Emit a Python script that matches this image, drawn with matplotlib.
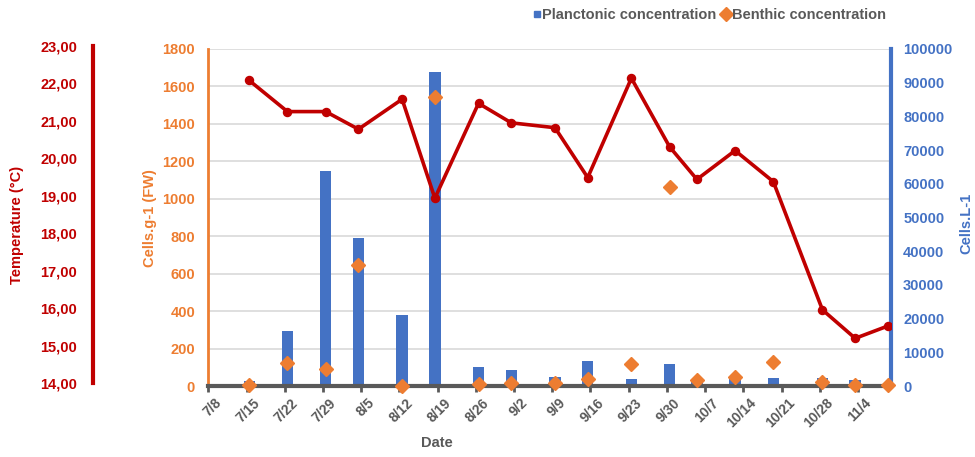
import matplotlib
matplotlib.use('Agg')
import matplotlib.pyplot as plt
import matplotlib.transforms as mtransforms
from matplotlib.lines import Line2D
from datetime import date

# ---------------- data ----------------
sample_dates = ['7/15', '7/22', '7/29', '8/4', '8/12', '8/18', '8/26', '9/1', '9/9',
                '9/15', '9/23', '9/30', '10/5', '10/12', '10/19', '10/28', '11/3', '11/9']
temperature = [22.08, 21.25, 21.25, 20.78, 21.58, 18.94, 21.47, 20.95, 20.82,
               19.49, 22.14, 20.31, 19.44, 20.21, 19.38, 15.96, 15.20, 15.53]
planctonic = [1500, 16300, 63700, 44000, 21100, 93200, 5500, 4700, 2650,
              7500, 2000, 6500, 1500, 2500, 2400, 2500, 1700, 0]
benthic = [5, 125, 91, 646, 2, 1542, 9, 14, 14,
           36, 116, 1064, 32, 50, 130, 23, 5, 5]
tick_labels = ['7/8', '7/15', '7/22', '7/29', '8/5', '8/12', '8/19', '8/26', '9/2',
               '9/9', '9/16', '9/23', '9/30', '10/7', '10/14', '10/21', '10/28', '11/4']
axis_start = '7/8'
axis_end = '11/10'


def day(s):
    m, d = map(int, s.split('/'))
    m0, d0 = map(int, axis_start.split('/'))
    return (date(2019, m, d) - date(2019, m0, d0)).days


# Excel date axis: each date occupies a one-day slot; marks sit at slot centre
xs = [day(s) + 0.5 for s in sample_dates]
tick_pos = [day(s) for s in tick_labels]
xlim = (0, day(axis_end))

RED = '#C00000'
ORANGE = '#ED7D31'
BLUE = '#4472C4'
GRAY = '#595959'
FONT = 'Liberation Sans'
plt.rcParams['font.family'] = [FONT, 'DejaVu Sans']
plt.rcParams['font.weight'] = 'bold'

W, H = 975, 457
fig = plt.figure(figsize=(W / 100, H / 100), dpi=100)

L, R, T, B = 208.3, 890.7, 49.0, 386.0
rect = [L / W, (H - B) / H, (R - L) / W, (B - T) / H]

# left axis (gridlines)
ax_l = fig.add_axes(rect)
ax_l.set_zorder(1)
ax_l.set_xlim(xlim)
ax_l.set_ylim(0, 1800)
ax_l.set_yticks(range(0, 1801, 200))
ax_l.yaxis.grid(True, color='#D9D9D9', lw=1.2)
ax_l.set_axisbelow(True)
ax_l.tick_params(axis='y', length=0, pad=9.5, labelcolor=ORANGE, labelsize=10.5)
ax_l.set_xticks([])
for s in ['top', 'right', 'bottom']:
    ax_l.spines[s].set_visible(False)
ax_l.spines['left'].set_color(ORANGE)
ax_l.spines['left'].set_linewidth(2)

# right axis (bars)
ax_r = fig.add_axes(rect)
ax_r.set_zorder(2)
ax_r.patch.set_alpha(0)
ax_r.bar(xs, planctonic, width=2.1, color=BLUE, zorder=2)
ax_r.set_xlim(xlim)
ax_r.set_ylim(0, 100000)
ax_r.set_yticks(range(0, 100001, 10000))
ax_r.yaxis.tick_right()
ax_r.tick_params(axis='y', length=0, pad=9, labelcolor=BLUE, labelsize=10.5)
ax_r.set_xticks([])
for s in ['top', 'left', 'bottom']:
    ax_r.spines[s].set_visible(False)
ax_r.spines['right'].set_color(BLUE)
ax_r.spines['right'].set_linewidth(3)

# temperature axis (line)
TT, TB = 46.0, 383.3
ax_t = fig.add_axes([L / W, (H - TB) / H, (R - L) / W, (TB - TT) / H])
ax_t.set_zorder(3)
ax_t.patch.set_alpha(0)
ax_t.plot(xs, temperature, color=RED, lw=2.6, marker='o', markersize=5.8,
          solid_joinstyle='round')
ax_t.set_xlim(xlim)
ax_t.set_ylim(14, 23)
ax_t.set_yticks(range(14, 24))
ax_t.set_yticklabels([f'{v:.2f}'.replace('.', ',') for v in range(14, 24)])
ax_t.tick_params(axis='y', length=0, pad=11.5, labelcolor=RED, labelsize=10.5)
ax_t.set_xticks([])
for s in ['top', 'right', 'bottom']:
    ax_t.spines[s].set_visible(False)
ax_t.spines['left'].set_position(('axes', (93.3 - L) / (R - L)))
ax_t.spines['left'].set_color(RED)
ax_t.spines['left'].set_linewidth(3)

# diamonds + x axis
ax_d = fig.add_axes(rect, sharey=ax_l)
ax_d.set_zorder(4)
ax_d.patch.set_alpha(0)
ax_d.plot(xs, benthic, ls='none', marker='D', markersize=7.5, color=ORANGE,
          clip_on=False, zorder=3)
ax_d.set_xlim(xlim)
ax_d.set_xticks(tick_pos)
ax_d.set_xticklabels(tick_labels, rotation=45, ha='right', va='top',
                     rotation_mode='anchor')
ax_d.tick_params(axis='x', length=4, width=2, color=GRAY, labelcolor=GRAY,
                 labelsize=10, pad=3)
shift = mtransforms.ScaledTranslation(6 / 100, 0, fig.dpi_scale_trans)
for lab in ax_d.get_xticklabels():
    lab.set_transform(lab.get_transform() + shift)
ax_d.tick_params(axis='y', left=False, labelleft=False)
for s in ['top', 'left', 'right']:
    ax_d.spines[s].set_visible(False)
ax_d.spines['bottom'].set_color(GRAY)
ax_d.spines['bottom'].set_linewidth(3)

# axis titles
fig.text(16.7 / W, 1 - 225 / H, 'Temperature (°C)', rotation=90, ha='center',
         va='center', color=RED, fontsize=10.5, fontweight='bold')
fig.text(150 / W, 1 - 218 / H, 'Cells.g-1 (FW)', rotation=90, ha='center',
         va='center', color=ORANGE, fontsize=10.5, fontweight='bold')
fig.text(966 / W, 1 - 223 / H, 'Cells.L-1', rotation=90, ha='center',
         va='center', color=BLUE, fontsize=10.5, fontweight='bold')
fig.text(437 / W, 1 - 443 / H, 'Date', ha='center', va='center',
         color=GRAY, fontsize=10.5, fontweight='bold')

handles = [Line2D([], [], ls='none', marker='s', markersize=5, color=BLUE),
           Line2D([], [], ls='none', marker='D', markersize=7, color=ORANGE)]
leg = fig.legend(handles, ['Planctonic concentration', 'Benthic concentration'],
                 loc='center', bbox_to_anchor=(709 / W, 1 - 15 / H), ncol=2,
                 frameon=False, handletextpad=0.05, columnspacing=0.4,
                 handlelength=0.6, prop={'family': FONT, 'weight': 'bold', 'size': 10.5})
for t in leg.get_texts():
    t.set_color(GRAY)

fig.savefig('out.png', dpi=100)
